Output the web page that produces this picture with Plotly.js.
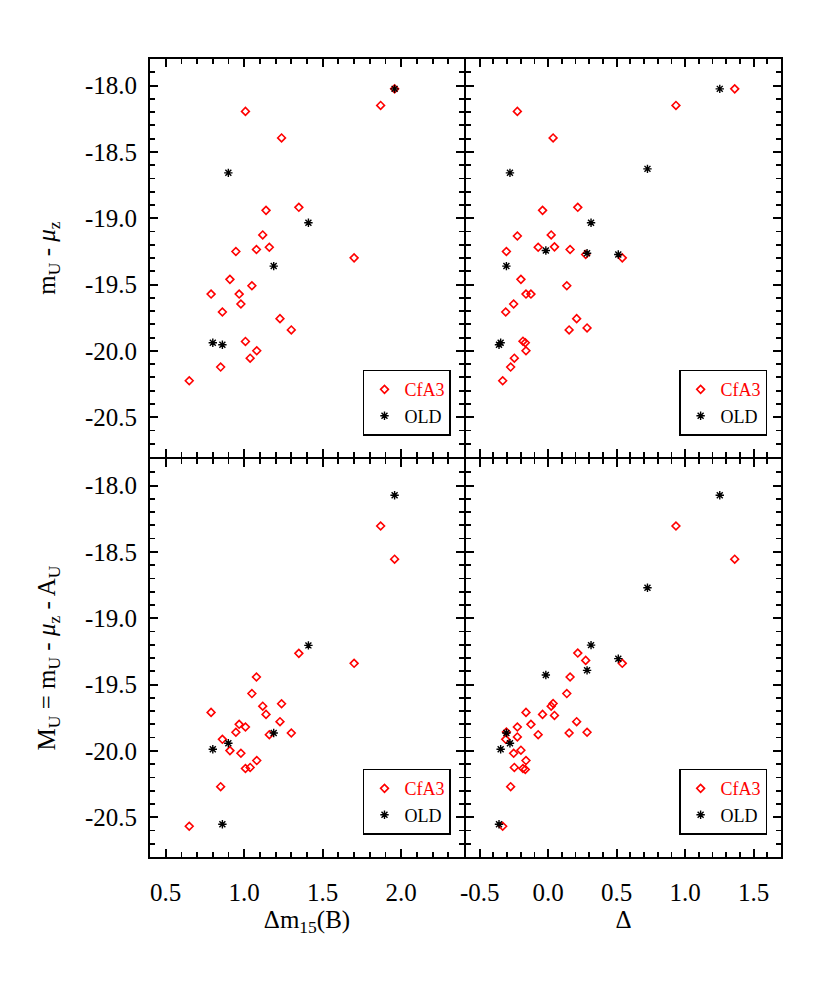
<!DOCTYPE html>
<html>
<head>
<meta charset="utf-8">
<script src="https://cdn.plot.ly/plotly-3.0.1.min.js"></script>
<style>
  body { margin: 0; background: white; }
  #myPlot { width: 830px; height: 998px; }
</style>
</head>
<body>
<div id="myPlot"></div>
<script>
// CfA3 sample, left column: dm15(B), m_U - mu_z, M_U
const dm15Cfa3 = [1.958, 1.869, 1.008, 1.238, 1.139, 1.348, 1.118, 0.947, 1.078, 1.160, 1.700, 0.909,
                  1.049, 0.789, 0.968, 0.979, 0.861, 1.228, 1.300, 1.008, 1.080, 1.038, 0.850, 0.650];
const mUCfa3L = [-18.025, -18.150, -18.195, -18.395, -18.941, -18.918, -19.126, -19.251, -19.236, -19.219, -19.299, -19.461,
                 -19.509, -19.572, -19.572, -19.647, -19.707, -19.757, -19.842, -19.929, -19.999, -20.055, -20.122, -20.225];
const MUCfa3L = [-18.555, -18.305, -19.820, -19.645, -19.725, -19.265, -19.663, -19.860, -19.443, -19.878, -19.340, -19.998,
                 -19.568, -19.710, -19.800, -20.018, -19.913, -19.780, -19.865, -20.133, -20.073, -20.125, -20.270, -20.568];

// OLD sample, left column
const dm15Old = [1.958, 0.899, 1.409, 1.188, 0.800, 0.861];
const mUOldL = [-18.025, -18.658, -19.034, -19.361, -19.939, -19.954];
const MUOldL = [-18.073, -19.943, -19.205, -19.865, -19.988, -20.553];

// CfA3 sample, right column: Delta, m_U - mu_z, M_U
const deltaCfa3 = [1.362, 0.933, -0.225, 0.036, -0.041, 0.216, -0.225, 0.022, -0.305, -0.073, 0.046, 0.160, 0.274, 0.541, -0.199,
                   0.136, -0.162, -0.126, -0.252, -0.310, 0.208, 0.153, 0.284, -0.184, -0.167, -0.162, -0.247, -0.274, -0.332];
const mUCfa3R = [-18.025, -18.150, -18.195, -18.395, -18.941, -18.918, -19.134, -19.126, -19.251, -19.219, -19.216, -19.236, -19.274, -19.299, -19.461,
                 -19.509, -19.572, -19.572, -19.647, -19.707, -19.757, -19.842, -19.827, -19.927, -19.939, -19.999, -20.055, -20.122, -20.225];
const MUCfa3R = [-18.555, -18.305, -19.820, -19.643, -19.725, -19.263, -19.895, -19.663, -19.858, -19.878, -19.733, -19.443, -19.318, -19.340, -19.995,
                 -19.568, -19.710, -19.800, -20.018, -19.913, -19.780, -19.865, -19.860, -20.133, -20.140, -20.073, -20.125, -20.270, -20.568];

// OLD sample, right column
const deltaOld = [1.253, 0.725, 0.313, -0.017, 0.512, 0.284, -0.305, -0.279, -0.347, -0.359];
const mUOldR = [-18.025, -18.628, -19.034, -19.244, -19.274, -19.264, -19.361, -18.658, -19.939, -19.954];
const MUOldR = [-18.073, -18.770, -19.203, -19.428, -19.305, -19.393, -19.865, -19.943, -19.988, -20.553];

// tick labels
const yTicks = [-18.0, -18.5, -19.0, -19.5, -20.0, -20.5];
const yTickText = ['-18.0', '-18.5', '-19.0', '-19.5', '-20.0', '-20.5'];
const dm15Ticks = [0.5, 1.0, 1.5, 2.0];
const dm15TickText = ['0.5', '1.0', '1.5', '2.0'];
const deltaTicks = [-0.5, 0.0, 0.5, 1.0, 1.5];
const deltaTickText = ['-0.5', '0.0', '0.5', '1.0', '1.5'];

const serif = 'Liberation Serif, Times New Roman, serif';
const cfa3Name = '<span style="color:red">CfA3</span>';

const dm15Range = [0.4, 2.4];
const deltaRange = [-0.6, 1.7];
const magRange = [-20.8, -17.8];

function cfa3(x, y, ax, leg) {
    return { x: x, y: y, xaxis: 'x' + ax, yaxis: 'y' + ax, mode: 'markers', type: 'scatter',
             name: cfa3Name, legend: leg,
             marker: { symbol: 'diamond-open', size: 6, color: 'red', line: { color: 'red', width: 1.6 } } };
}
function old(x, y, ax, leg) {
    return { x: x, y: y, xaxis: 'x' + ax, yaxis: 'y' + ax, mode: 'markers', type: 'scatter',
             name: 'OLD', legend: leg,
             marker: { symbol: 'asterisk-open', size: 7, color: 'black', line: { color: 'black', width: 1.4 } } };
}
// one empty (null) point, only there so a minor-tick overlay axis gets drawn
function holder(xa, ya) {
    return { x: [null], y: [null], xaxis: xa, yaxis: ya, mode: 'markers', type: 'scatter',
             showlegend: false, hoverinfo: 'skip' };
}

const data = [
    cfa3(dm15Cfa3, mUCfa3L, '', 'legend'), old(dm15Old, mUOldL, '', 'legend'),
    cfa3(deltaCfa3, mUCfa3R, '2', 'legend2'), old(deltaOld, mUOldR, '2', 'legend2'),
    cfa3(dm15Cfa3, MUCfa3L, '3', 'legend3'), old(dm15Old, MUOldL, '3', 'legend3'),
    cfa3(deltaCfa3, MUCfa3R, '4', 'legend4'), old(deltaOld, MUOldR, '4', 'legend4'),
    holder('x5', 'y'), holder('x', 'y5'),
    holder('x6', 'y2'), holder('x2', 'y6'),
    holder('x7', 'y3'), holder('x3', 'y7'),
    holder('x8', 'y4'), holder('x4', 'y8')
];

const lw = 2;
function axis(extra) {
    return Object.assign({
        showline: true, linecolor: 'black', linewidth: lw, mirror: 'ticks',
        ticks: 'inside', ticklen: 8, tickwidth: 2, tickcolor: 'black',
        minor: { ticks: 'inside', ticklen: 5, tickwidth: 1.8, tickcolor: 'black', tickmode: 'linear', tick0: 0, dtick: 0.1 },
        showgrid: false, zeroline: false, tickmode: 'array',
        tickfont: { family: serif, size: 25, color: 'black' }
    }, extra);
}
// overlay axis that only carries the 0.1 minor ticks
function minorAxis(over, anchor, range) {
    return { overlaying: over, anchor: anchor, range: range, type: 'linear', tickmode: 'linear', tick0: 0, dtick: 0.1,
             ticks: 'inside', ticklen: 5, tickwidth: 1.8, tickcolor: 'black', mirror: 'ticks',
             showline: false, showticklabels: false, showgrid: false, zeroline: false, fixedrange: true };
}

function legendAt(x, y) {
    return { x: x, y: y, xanchor: 'right', yanchor: 'bottom', bordercolor: 'black', borderwidth: 1.5,
             bgcolor: 'white', font: { family: serif, size: 18, color: 'black' },
             itemwidth: 30, tracegroupgap: 0 };
}

// half a line width of gap, so the shared edges overlap into one line
const gx = lw / 631 / 2, gy = lw / 798 / 2;
const colL = [0, 0.4992 - gx], colR = [0.4992 + gx, 1];
const rowT = [0.5 + gy, 1], rowB = [0, 0.5 - gy];
const titleFont = { family: serif, size: 25, color: 'black' };

const layout = {
    width: 830, height: 998,
    margin: { l: 150, r: 49, t: 59, b: 141 },
    paper_bgcolor: 'white', plot_bgcolor: 'white',
    font: { family: serif, color: 'black' },
    xaxis: axis({ domain: colL, range: dm15Range, anchor: 'y', tickvals: dm15Ticks, ticktext: dm15TickText, showticklabels: false }),
    yaxis: axis({ domain: rowT, range: magRange, anchor: 'x', tickvals: yTicks, ticktext: yTickText, ticklabelstandoff: 6,
                  title: { text: 'm<sub>U</sub> - <i>μ</i><sub>z</sub>', font: titleFont, standoff: 22 } }),
    xaxis2: axis({ domain: colR, range: deltaRange, anchor: 'y2', tickvals: deltaTicks, ticktext: deltaTickText, showticklabels: false }),
    yaxis2: axis({ domain: rowT, range: magRange, anchor: 'x2', tickvals: yTicks, ticktext: yTickText, showticklabels: false }),
    xaxis3: axis({ domain: colL, range: dm15Range, anchor: 'y3', tickvals: dm15Ticks, ticktext: dm15TickText, ticklabelstandoff: 12,
                   title: { text: 'Δm<sub>15</sub>(B)', font: titleFont, standoff: 0 } }),
    yaxis3: axis({ domain: rowB, range: magRange, anchor: 'x3', tickvals: yTicks, ticktext: yTickText, ticklabelstandoff: 6,
                   title: { text: 'M<sub>U</sub> = m<sub>U</sub> - <i>μ</i><sub>z</sub> - A<sub>U</sub>', font: titleFont, standoff: 22 } }),
    xaxis4: axis({ domain: colR, range: deltaRange, anchor: 'y4', tickvals: deltaTicks, ticktext: deltaTickText, ticklabelstandoff: 12,
                   title: { text: 'Δ', font: titleFont, standoff: 0 } }),
    yaxis4: axis({ domain: rowB, range: magRange, anchor: 'x4', tickvals: yTicks, ticktext: yTickText, showticklabels: false }),
    xaxis5: minorAxis('x', 'y', dm15Range),
    yaxis5: minorAxis('y', 'x', magRange),
    xaxis6: minorAxis('x2', 'y2', deltaRange),
    yaxis6: minorAxis('y2', 'x2', magRange),
    xaxis7: minorAxis('x3', 'y3', dm15Range),
    yaxis7: minorAxis('y3', 'x3', magRange),
    xaxis8: minorAxis('x4', 'y4', deltaRange),
    yaxis8: minorAxis('y4', 'x4', magRange),
    legend: legendAt(0.477, 0.528),
    legend2: legendAt(0.978, 0.528),
    legend3: legendAt(0.477, 0.028),
    legend4: legendAt(0.978, 0.028),
    showlegend: true
};

const configs = { staticPlot: true, displayModeBar: false };

Plotly.newPlot('myPlot', data, layout, configs);
</script>
</body>
</html>
